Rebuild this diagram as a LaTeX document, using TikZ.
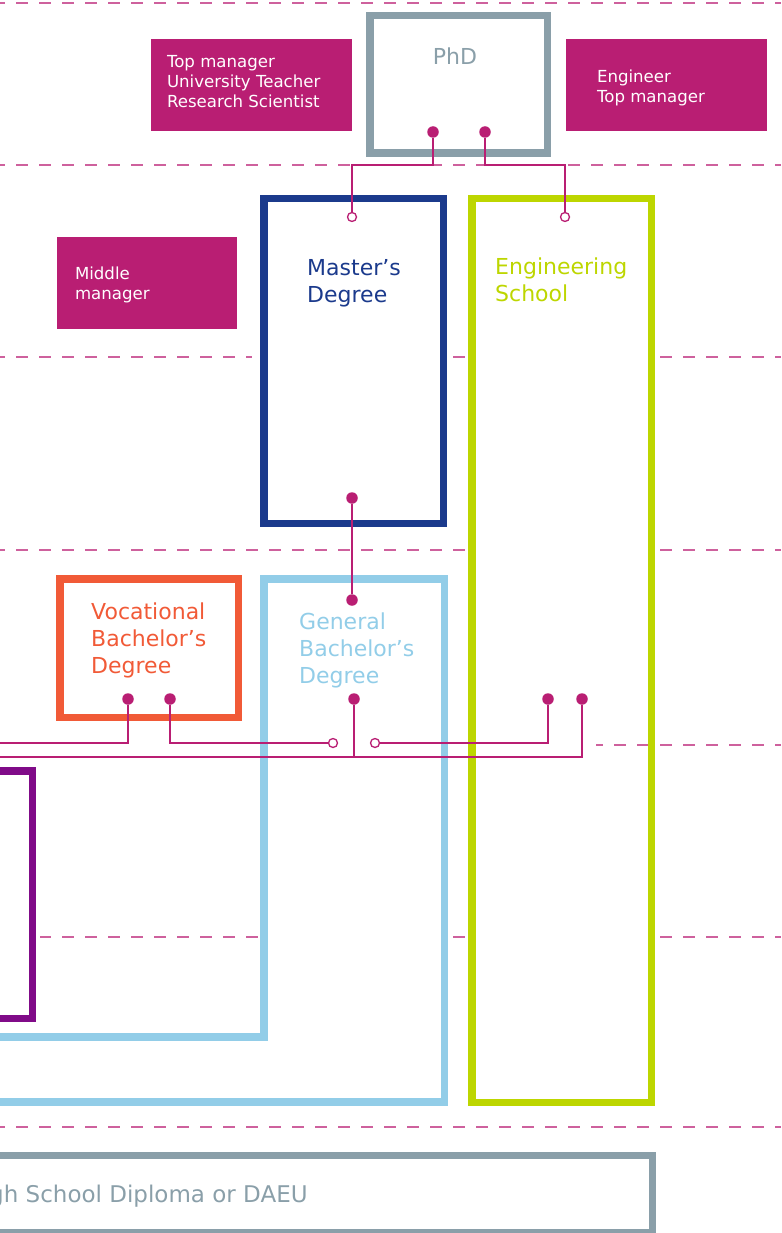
\documentclass[tikz,border=0pt]{standalone}
\usepackage{fontspec}
\setmainfont{DejaVu Sans}
\usetikzlibrary{positioning}
\definecolor{jobpink}{HTML}{B91E73}
\definecolor{phdgray}{HTML}{8A9FA9}
\definecolor{masblue}{HTML}{1B3A8C}
\definecolor{englime}{HTML}{BDD600}
\definecolor{genblue}{HTML}{92CDE8}
\definecolor{vocred}{HTML}{F15A37}
\definecolor{licpurple}{HTML}{800B88}
\begin{document}
\begin{tikzpicture}[x=1pt, y=-1pt, line join=miter,
    frame/.style={draw, line width=7.5pt, inner sep=0pt},
    title/.style={font=\fontsize{22}{27}\selectfont, align=left, inner sep=0pt},
    job/.style={fill=jobpink, inner sep=0pt, minimum height=92pt},
    jobtext/.style={font=\fontsize{16.6}{20}\selectfont, text=white, align=left, inner sep=0pt},
    dot/.style={circle, fill=jobpink, inner sep=0pt, minimum size=11.5pt},
    hole/.style={circle, draw=jobpink, fill=white, line width=1.3pt, inner sep=0pt, minimum size=9pt},
    link/.style={draw=jobpink, line width=1.4pt},
    level/.style={draw=jobpink!70!white, line width=1.2pt, dash pattern=on 11.5pt off 11.5pt}]
    \useasboundingbox (0,0) rectangle (781,1233);
    \clip (0,0) rectangle (781,1233);
    \foreach \y/\a/\b in {3/0/781, 165/0/781, 357/0/252, 357/452/466, 357/660/781,
        550/0/465, 550/658/781, 745/596/781, 937/40/258, 937/453/465, 937/658/781, 1127/0/781}{
        \pgfmathsetmacro\ph{mod(\a+7,23)}
        \draw[level, dash phase=\ph pt] (\a,\y) -- (\b,\y);
    }
    \node[frame, draw=phdgray, minimum width=177.5pt, minimum height=137.5pt] (phd) at (458.5,84.5) {};
    \node[frame, draw=masblue, minimum width=179.5pt, minimum height=324.5pt] (master) at (353.5,361) {};
    \node[frame, draw=englime, minimum width=179.5pt, minimum height=903.5pt] (eng) at (561.5,650.5) {};
    \node[frame, draw=vocred, minimum width=178.5pt, minimum height=138.5pt] (voc) at (149,648) {};
    \draw[genblue, line width=7.5pt] (-10,1037) -- (264,1037) -- (264,579) -- (444.5,579) -- (444.5,1102) -- (-10,1102);
    \draw[licpurple, line width=7.5pt] (-10,770.75) -- (32.25,770.75) -- (32.25,1018.25) -- (-10,1018.25);
    \draw[phdgray, line width=7.5pt] (-10,1155.5) rectangle (652.25,1232.75);
    \node[title, text=phdgray, anchor=north] (phdtxt) at (455,47.3) {PhD};
    \node[title, text=masblue, below right=64pt and 47pt of master.north west] (mastxt) {Master’s\\Degree};
    \node[title, text=englime, below right=63pt and 27pt of eng.north west] (engtxt) {Engineering\\School};
    \node[title, text=vocred, below right=28pt and 35pt of voc.north west] (voctxt) {Vocational\\Bachelor’s\\Degree};
    \node[title, text=genblue, anchor=north west] (gentxt) at (299,613) {General\\Bachelor’s\\Degree};
    \node[title, font=\fontsize{23}{27}\selectfont, text=phdgray, anchor=base west] (bactxt) at (-11,1202) {gh School Diploma or DAEU};
    \node[job, minimum width=201pt] (jobsphd) at (251.5,85) {};
    \node[jobtext, below right=16pt and 16pt of jobsphd.north west] (jobsphdtxt) {Top manager\\University Teacher\\Research Scientist};
    \node[job, minimum width=201pt] (jobseng) at (666.5,85) {};
    \node[jobtext, below right=31pt and 31pt of jobseng.north west] (jobsengtxt) {Engineer\\Top manager};
    \node[job, minimum width=180pt] (jobsmas) at (147,283) {};
    \node[jobtext, below right=30pt and 18pt of jobsmas.north west] (jobsmastxt) {Middle\\manager};
    \node[dot] (phdL) at (433,132) {};
    \node[dot] (phdR) at (485,132) {};
    \node[hole] (masT) at (352,217) {};
    \node[hole] (engT) at (565,217) {};
    \node[dot] (masB) at (352,498) {};
    \node[dot] (genT) at (352,600) {};
    \node[dot] (genB) at (354,699) {};
    \node[dot] (vocL) at (128,699) {};
    \node[dot] (vocR) at (170,699) {};
    \node[dot] (engL) at (548,699) {};
    \node[dot] (engR) at (582,699) {};
    \node[hole] (holeL) at (333,743) {};
    \node[hole] (holeR) at (375,743) {};
    \coordinate (toprow) at (0,165);
    \coordinate (exitL) at (-5,743);
    \coordinate (exitB) at (-5,757);
    \draw[link] (phdL) -- (phdL |- toprow) -| (masT);
    \draw[link] (phdR) -- (phdR |- toprow) -| (engT);
    \draw[link] (masB) -- (genT);
    \draw[link] (vocL) |- (exitL);
    \draw[link] (vocR) |- (holeL);
    \draw[link] (engL) |- (holeR);
    \draw[link] (genB) -- (genB |- exitB);
    \draw[link] (exitB) -| (engR);
    % \node at (390,600) {};
\end{tikzpicture}
\end{document}
